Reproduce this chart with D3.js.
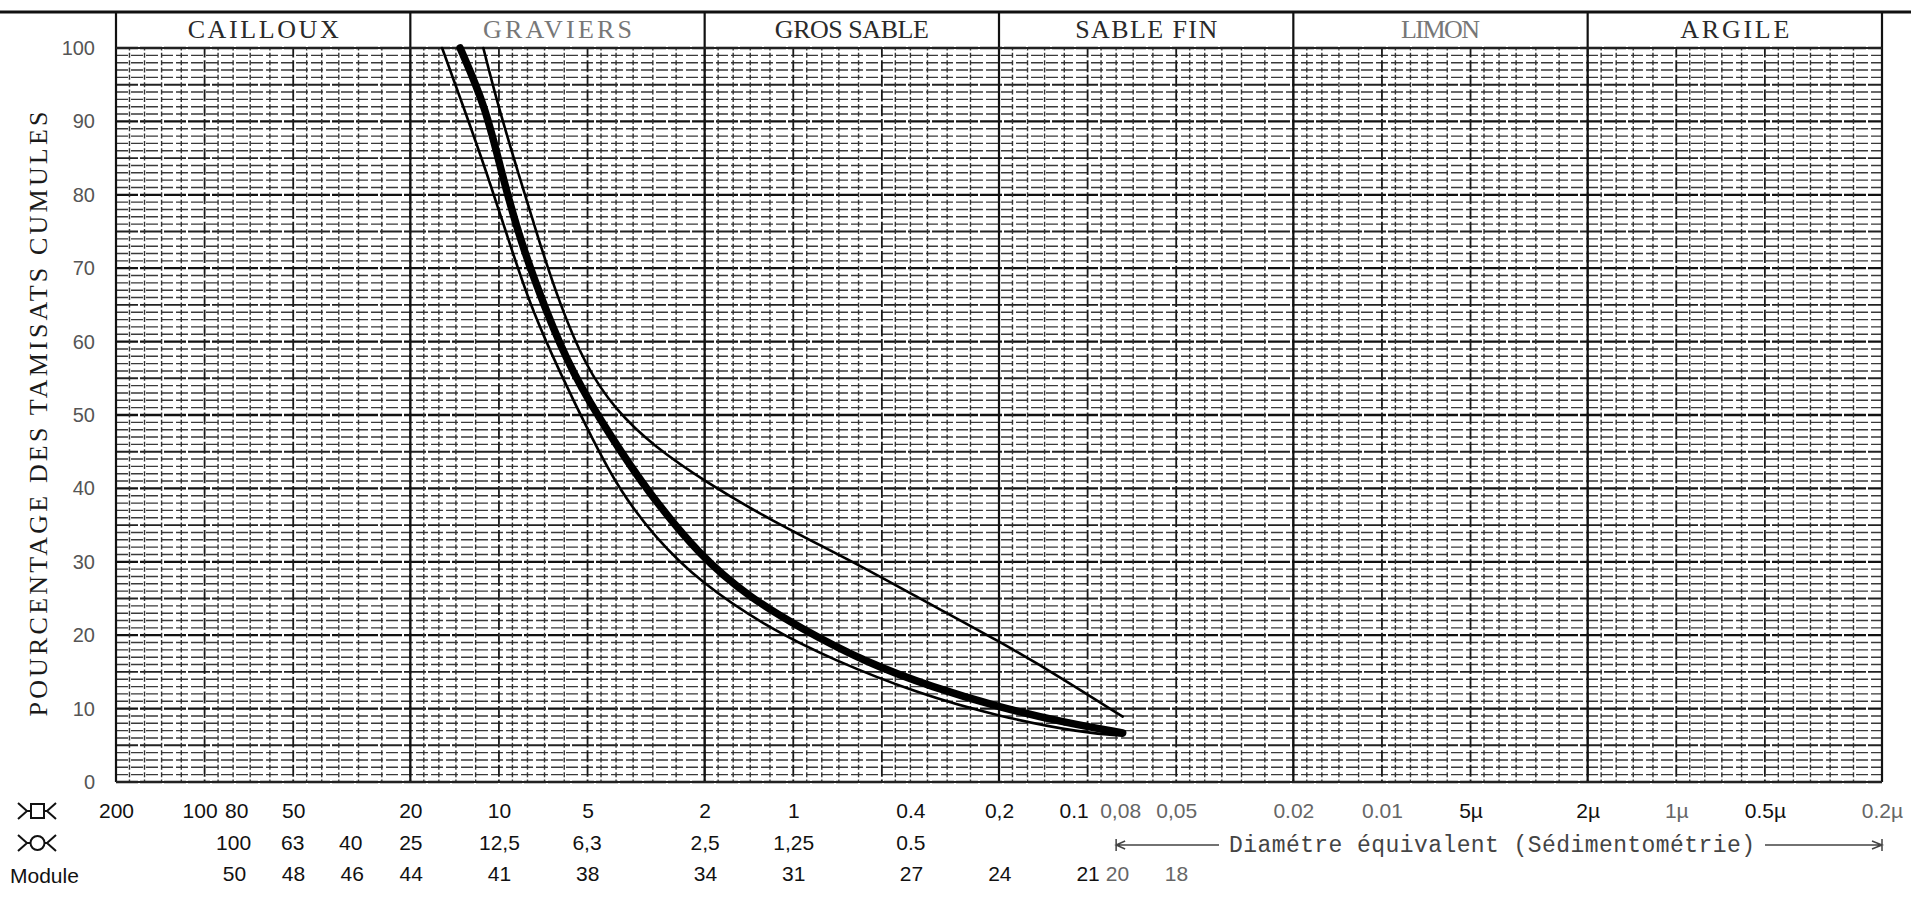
<!DOCTYPE html>
<html>
<head>
<meta charset="utf-8">
<script src="https://cdn.jsdelivr.net/npm/d3@7"></script>
<style>
  body { margin: 0; background: #fff; }
  svg { display: block; }
</style>
</head>
<body>
<script>
var pctTicks = [0, 10, 20, 30, 40, 50, 60, 70, 80, 90, 100];

var zoneNames = ["CAILLOUX", "GRAVIERS", "GROS SABLE", "SABLE FIN", "LIMON", "ARGILE"];
var zoneLimits = [200, 20, 2, 0.2, 0.02, 0.002, 0.0002];

var squareSieves = [200, 100, 80, 50, 20, 10, 5, 2, 1, 0.4, 0.2, 0.1, 0.08, 0.05, 0.02, 0.01, 0.005, 0.002, 0.001, 0.0005, 0.0002];
var squareLabels = ["200", "100", "80", "50", "20", "10", "5", "2", "1", "0.4", "0,2", "0.1", "0,08", "0,05", "0.02", "0.01", "5µ", "2µ", "1µ", "0.5µ", "0.2µ"];
var ringSieves = [100, 63, 40, 25, 12.5, 6.3, 2.5, 1.25, 0.5];
var ringLabels = ["100", "63", "40", "25", "12,5", "6,3", "2,5", "1,25", "0.5"];
var modules = [50, 48, 46, 44, 41, 38, 34, 31, 27, 24, 21, 20, 18];

// courbes : diametre (mm) / % tamisat cumule
var leftDiam = [15.6, 13.2, 11.0, 9.3, 7.85, 6.2, 4.8, 3.9, 2.95, 2.07, 1.23, 0.73, 0.38, 0.2, 0.104, 0.076];
var leftPct  = [100, 92, 83, 74, 65, 55.7, 46.6, 39.8, 33.3, 27.2, 21.1, 16.6, 12.1, 8.9, 6.7, 6.3];

var mainDiam = [13.55, 11.1, 9.8, 8.5, 7.05, 5.65, 4.1, 3.15, 2.07, 1.4, 0.95, 0.56, 0.335, 0.2, 0.117, 0.076];
var mainPct  = [100, 92, 83, 74, 65, 55.7, 46.6, 39.8, 30.7, 25.1, 21, 16.2, 12.9, 10.2, 8, 6.7];

var rightDiam = [11.3, 10.05, 8.6, 7.35, 6.2, 5.1, 4.03, 2.95, 1.99, 1.2, 0.64, 0.38, 0.198, 0.124, 0.076];
var rightPct  = [100, 92, 83, 74, 65, 56.8, 50.7, 45.6, 40.9, 35.7, 30.2, 25.2, 19.1, 14.3, 8.9];

// sous-divisions du papier log
var mantissas = [1, 1.2, 1.4, 1.6, 1.8, 2, 2.5, 3, 3.5, 4, 4.5, 5, 6, 7, 8, 9];


var width = 1911, height = 899;

var svg = d3.select("body").append("svg")
    .attr("width", width)
    .attr("height", height);

svg.append("rect").attr("width", width).attr("height", height).attr("fill", "#fff");

var x = d3.scaleLog().domain([200, 0.0002]).range([116, 1882]);
var y = d3.scaleLinear().domain([0, 100]).range([782, 48]);

// tamis a mailles rondes = 1.25 x maille carree
var xRing = x.copy().domain([250, 0.00025]);
// module AFNOR : 51 -> 100 mm, 21 -> 0.1 mm
var xModule = d3.scaleLinear().domain([51, 21]).range([x(100), x(0.1)]);

// ---- grille ----
var grid = svg.append("g");

var hLines = d3.range(0, 101);
grid.selectAll(".h")
    .data(hLines)
    .enter().append("line")
    .attr("x1", x(200)).attr("x2", x(0.0002))
    .attr("y1", function (d) { return y(d); })
    .attr("y2", function (d) { return y(d); })
    .attr("stroke", function (d) { return d % 10 == 0 ? "#111" : (d % 5 == 0 ? "#222" : "#3a3a3a"); })
    .attr("stroke-width", function (d) { return d % 10 == 0 ? 2.3 : (d % 5 == 0 ? 1.9 : 1.4); })
    .attr("stroke-dasharray", function (d) { return d % 5 == 0 ? "22,2" : "12,3"; });

var vLines = [];
d3.range(-4, 3).forEach(function (e) {
    mantissas.forEach(function (m) {
        var v = m * Math.pow(10, e);
        if (v <= 200.001 && v >= 0.00019999) vLines.push({ v: v, major: m == 1 || m == 2 || m == 5 });
    });
});

grid.selectAll(".v")
    .data(vLines)
    .enter().append("line")
    .attr("x1", function (d) { return x(d.v); })
    .attr("x2", function (d) { return x(d.v); })
    .attr("y1", y(100)).attr("y2", y(0))
    .attr("stroke", function (d) { return d.major ? "#1a1a1a" : "#333"; })
    .attr("stroke-width", function (d) { return d.major ? 1.8 : 1.4; })
    .attr("stroke-dasharray", function (d) { return d.major ? "12,2.68" : "5,2.34"; })
    .attr("stroke-dashoffset", 2.5);

// limites des classes (traversent l'en-tete)
svg.selectAll(".zone")
    .data(zoneLimits)
    .enter().append("line")
    .attr("x1", function (d) { return x(d); })
    .attr("x2", function (d) { return x(d); })
    .attr("y1", 12).attr("y2", y(0))
    .attr("stroke", "#111")
    .attr("stroke-width", 2.2);

// trait du haut et bords du quadrillage
svg.append("line").attr("x1", 0).attr("x2", width).attr("y1", 12).attr("y2", 12)
    .attr("stroke", "#111").attr("stroke-width", 3);
svg.append("line").attr("x1", x(200)).attr("x2", x(0.0002)).attr("y1", y(100)).attr("y2", y(100))
    .attr("stroke", "#222").attr("stroke-width", 2);
svg.append("line").attr("x1", x(200)).attr("x2", x(0.0002)).attr("y1", y(0)).attr("y2", y(0))
    .attr("stroke", "#222").attr("stroke-width", 2);

// en-tete
var zoneTextWidth = [151, 149, 154, 142, 79, 109];
svg.selectAll(".zname")
    .data(zoneNames)
    .enter().append("text")
    .attr("x", function (d, i) { return (x(zoneLimits[i]) + x(zoneLimits[i + 1])) / 2; })
    .attr("y", 38)
    .attr("text-anchor", "middle")
    .attr("textLength", function (d, i) { return zoneTextWidth[i]; })
    .attr("lengthAdjust", "spacing")
    .style("font-family", "'Liberation Serif', serif")
    .style("font-size", "26px")
    .attr("fill", function (d, i) { return (i == 1 || i == 4) ? "#777" : "#2a2a2a"; })
    .text(function (d) { return d; });

// ---- courbes ----
var line = d3.line()
    .x(function (d) { return x(d[0]); })
    .y(function (d) { return y(d[1]); })
    .curve(d3.curveBasis);

var curves = [
    { pts: d3.zip(leftDiam, leftPct), w: 2.6 },
    { pts: d3.zip(rightDiam, rightPct), w: 2.6 },
    { pts: d3.zip(mainDiam, mainPct), w: 7.5 }
];

svg.selectAll(".curve")
    .data(curves)
    .enter().append("path")
    .attr("d", function (d) { return line(d.pts); })
    .attr("fill", "none")
    .attr("stroke", "#000")
    .attr("stroke-width", function (d) { return d.w; })
    .attr("stroke-linecap", "round")
    .attr("stroke-linejoin", "round");

// ---- axe vertical ----
var yAxis = svg.append("g")
    .attr("transform", "translate(95,0)")
    .call(d3.axisLeft(y).tickValues(pctTicks).tickSize(0).tickPadding(0));
yAxis.select(".domain").remove();
yAxis.selectAll("text")
    .style("font-family", "'Liberation Sans', sans-serif")
    .style("font-size", "20px")
    .attr("fill", "#555");

svg.append("text")
    .attr("transform", "translate(47,414) rotate(-90)")
    .attr("text-anchor", "middle")
    .attr("textLength", 605)
    .attr("lengthAdjust", "spacing")
    .style("font-family", "'Liberation Serif', serif")
    .style("font-size", "26px")
    .attr("fill", "#1a1a1a")
    .text("POURCENTAGE DES TAMISATS CUMULES");

// ---- echelles du bas ----
function bottomRow(scale, values, labels, top) {
    var g = svg.append("g")
        .attr("transform", "translate(0," + top + ")")
        .call(d3.axisBottom(scale).tickValues(values)
            .tickFormat(function (d) { return labels ? labels[values.indexOf(d)] : d; })
            .tickSize(0).tickPadding(0));
    g.select(".domain").remove();
    g.selectAll("text")
        .style("font-family", "'Liberation Sans', sans-serif")
        .style("font-size", "21px")
        .attr("fill", "#111");
    return g;
}

// petits decalages de lisibilite
var nudge = { "100": -5, "80": 3, "0.1": -14, "0.08": 4 };

var row1 = bottomRow(x, squareSieves, squareLabels, 803);
row1.selectAll("text")
    .attr("dx", function (d) { return nudge[String(d)] || 0; })
    .attr("fill", function (d) { return d < 0.1 && [0.005, 0.002, 0.0005].indexOf(d) < 0 ? "#666" : "#111"; });

bottomRow(xRing, ringSieves, ringLabels, 835);
var row3 = bottomRow(xModule, modules, null, 866);
row3.selectAll("text").attr("fill", function (d) { return d <= 20 ? "#666" : "#111"; });

// symboles tamis / passoire
function sieveIcon(cy, round) {
    var g = svg.append("g").attr("fill", "none").attr("stroke", "#111").attr("stroke-width", 2);
    g.append("path").attr("d", "M18," + (cy - 8) + "L27," + cy + "L18," + (cy + 8) + "M27," + cy + "H31");
    g.append("path").attr("d", "M56," + (cy - 8) + "L47," + cy + "L56," + (cy + 8) + "M47," + cy + "H44");
    if (round) g.append("circle").attr("cx", 37.5).attr("cy", cy).attr("r", 7);
    else g.append("rect").attr("x", 31).attr("y", cy - 7).attr("width", 13).attr("height", 14);
}
sieveIcon(811, false);
sieveIcon(843, true);

svg.append("text")
    .attr("x", 10).attr("y", 883)
    .style("font-family", "'Liberation Sans', sans-serif")
    .style("font-size", "21px")
    .attr("fill", "#111")
    .text("Module");

// diametre equivalent
var arrowY = 845;
var ag = svg.append("g").attr("stroke", "#444").attr("stroke-width", 1.5).attr("fill", "none");
ag.append("path").attr("d", "M" + x(0.08) + "," + (arrowY - 6) + "V" + (arrowY + 6) +
    "M" + (x(0.08) + 9) + "," + (arrowY - 4) + "L" + x(0.08) + "," + arrowY + "L" + (x(0.08) + 9) + "," + (arrowY + 4) +
    "M" + x(0.08) + "," + arrowY + "H1219");
ag.append("path").attr("d", "M1765," + arrowY + "H" + x(0.0002) +
    "M" + (x(0.0002) - 10) + "," + (arrowY - 4) + "L" + x(0.0002) + "," + arrowY + "L" + (x(0.0002) - 10) + "," + (arrowY + 4) +
    "M" + x(0.0002) + "," + (arrowY - 6) + "V" + (arrowY + 6));

svg.append("text")
    .attr("x", 1492).attr("y", 852)
    .attr("text-anchor", "middle")
    .attr("textLength", 526)
    .attr("lengthAdjust", "spacing")
    .style("font-family", "'Liberation Mono', monospace")
    .style("font-size", "23px")
    .attr("fill", "#444")
    .text("Diamétre équivalent (Sédimentométrie)");
</script>
</body>
</html>
